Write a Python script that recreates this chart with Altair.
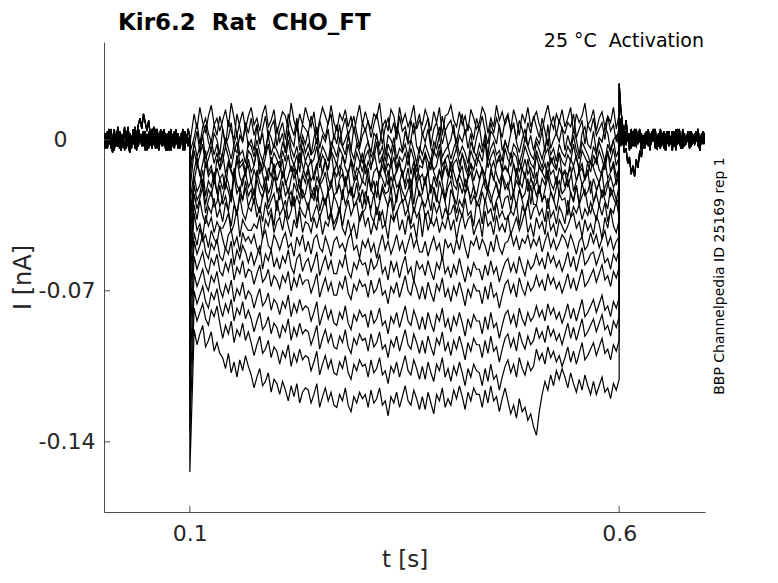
import altair as alt
import pandas as pd
import numpy as np

# ---------------- data (current in pA, 1 pA = 0.001 nA) ----------------
# baseline segments before the pulse (t = 0.000 .. 0.100 s)
pre_a = [0,-3,4,-2,1,-5,3,-1,5,-4,2,0,-3,4,-2,-6,1,3,-1,2,7,10,5,12,8,4,9,2,-3,1,-4,3,-1,5,-2,0,-5,2,4,-3,1,-2,5,-4,0,3,-1,-5,2,1,0]
pre_b = [-2,3,-1,5,-4,0,2,-3,6,-1,-5,2,4,-2,0,3,-4,1,5,-3,-1,2,-2,4,-5,1,3,-1,-4,2,0,5,-3,1,-2,4,-1,-5,3,0,2,-3,4,-1,-4,1,3,-2,0,5,1]
pre_c = [3,-1,-4,2,0,-2,5,-3,1,4,-5,0,2,-1,3,-4,1,-2,6,0,-3,2,-1,4,1,-2,3,0,-4,2,5,-1,-3,1,4,-2,0,3,-5,1,-1,4,-2,2,-4,0,3,-3,1,-1,-2]
pre_d = [2,-4,1,5,-2,-6,3,0,-3,4,-1,2,-5,1,6,-2,0,3,-4,-1,5,2,-3,0,4,-5,1,-2,3,6,-1,-4,2,0,-3,5,-2,1,4,-5,0,2,-1,3,-4,1,5,-3,0,-2,2]
pre_e = [-4,1,3,-2,5,0,-5,2,-1,4,-3,1,6,-4,0,2,-2,5,-1,-5,3,0,2,-3,4,-1,-4,1,5,-2,3,0,-5,2,-1,4,1,-3,0,5,-2,-4,3,1,-1,2,-5,4,0,-3,1]
# baseline segments after the pulse (t = 0.600 .. 0.700 s)
post_a = [8,3,-2,4,-1,2,-4,5,0,-3,3,-1,4,-5,1,2,-2,5,-3,0,3,-4,1,-1,4,-2,2,-5,0,3,-1,4,-3,1,-2,5,0,-4,2,-1,3,-3,4,0,-2,1,5,-4,2,-1,3]
post_b = [3,-2,1,-6,-4,-11,-8,-16,-12,-17,-9,-13,-5,-8,-1,-4,2,-3,3,-1,5,-2,0,3,-4,1,4,-3,2,-1,0,-5,3,1,-2,4,-1,2,-3,0,3,-4,1,2,-1,4,-3,0,2,-2,1]
post_c = [26,14,7,3,9,2,-1,4,-3,2,5,-2,0,3,-4,1,4,-1,-3,2,0,5,-2,1,-4,3,-1,2,4,-3,0,1,-2,5,-1,3,-4,0,2,-2,4,1,-3,0,3,-1,2,-5,1,4,0]
post_d = [5,10,2,-3,4,-1,3,-4,1,5,-2,0,3,-5,2,-1,4,1,-3,0,5,-2,-4,2,1,-1,3,-5,0,4,-2,2,-3,1,5,-1,-4,0,3,-2,1,4,-3,2,-1,0,5,-4,1,3,-2]
post_e = [1,-3,6,0,-2,3,-5,1,4,-1,-3,2,5,-4,0,3,-2,1,-5,4,2,-1,0,-3,5,1,-4,2,-1,3,0,-2,4,-5,1,2,-3,5,0,-1,3,-4,2,1,-2,4,-1,-5,3,0,2]

# capacitive transient at pulse onset (t = 0.100 s), one per sweep
onset_spike = [-2,-6,-12,-18,-24,-30,-36,-42,-48,-55,-60,-68,-75,-85,-95,-108,-120,-135,-154]

# sweep currents during the pulse (t = 0.105 .. 0.600 s)
s01 = [12,5,15,8,3,11,16,7,10,4, 9,14,6,17,10,2,8,13,5,11, 15,7,10,4,12,16,6,9,14,3,
       8,13,11,5,17,9,4,12,7,15, 10,6,13,2,9,15,11,7,16,8, 4,12,9,14,6,11,3,10,16,7,
       13,8,5,12,10,17,6,9,4,14, 11,3,15,8,12,6,10,16,5,9, 7,14,10,4,13,8,15,2,11,12,
       16,9,6,13,7,11,4,14,10,5, 8,15,12,3,10,6,16,9,13,7, 11,5,14,9,2,12,8,15,6,10,
       13,7,4,11,16,9,5,12,8,14, 6,10,15,3,12,8,11,17,7,9, 14,4,10,13,6,11,8,15,5,12]
s02 = [1,8,-2,6,10,3,-1,7,2,11, 5,-3,9,4,0,12,6,-1,8,3, 10,2,7,-2,5,11,1,6,9,-3,
       4,8,0,12,6,2,10,-1,7,5, 3,11,6,-2,9,4,1,8,12,0, 7,-1,5,10,2,6,11,3,-3,8,
       4,9,1,7,12,5,-2,6,10,3, 8,0,11,4,6,-1,9,3,7,12, 2,6,10,-3,5,8,1,11,4,7,
       9,3,-1,6,12,2,7,5,0,10, 5,11,4,-2,8,3,10,6,1,9, 12,4,7,0,9,5,-1,8,3,11,
       6,1,10,4,-3,7,11,2,9,5, 3,8,6,12,1,5,9,-2,7,4, 10,2,5,8,0,11,4,7,-1,6]
s03 = [-3,4,-6,2,7,-1,-5,3,0,-7, 5,-2,1,8,-4,-6,2,-1,6,-3, 0,-5,7,-2,3,-7,4,1,-4,6,
       -1,3,-6,5,0,-3,8,-5,2,-2, 4,-7,1,6,-4,2,-1,5,-6,3, -2,7,-3,0,4,-5,6,-1,-4,2,
       5,-1,-6,3,1,-3,7,-7,2,0, -4,6,2,-5,4,-2,0,8,-3,-6, 3,-1,5,-4,-7,1,6,-2,4,-3,
       0,7,-5,2,-1,5,-4,3,-6,1, 6,-3,0,-7,4,2,-2,7,-5,-1, -4,3,8,-1,-6,0,5,-3,2,-5,
       1,-2,4,-6,7,-4,0,3,-1,6, -5,2,-3,5,0,-7,3,6,-2,-4, 4,-6,1,-1,6,3,-5,0,2,-3]
s04 = [-1,-8,-3,2,-9,-5,0,-7,-2,-10, -6,1,-4,-9,-2,3,-7,-5,-11,-1, -3,-8,0,-6,-10,-4,2,-7,-2,-5,
       -9,-1,-6,4,-4,-8,-3,-11,0,-6, -2,-7,-5,1,-9,-3,-6,-10,-1,-4, -8,0,-3,-7,2,-5,-9,-2,-6,-11,
       -4,-1,-8,-5,3,-7,-3,-10,-2,-6, 1,-9,-4,-6,-2,-8,0,-5,-11,-3, -7,-2,-6,-10,-1,-4,2,-8,-5,-3,
       -9,-4,0,-7,-3,-6,-11,-1,-5,-8, -2,-6,3,-9,-4,-1,-7,-5,-10,0, -5,-8,-2,-4,-11,-6,1,-3,-7,-9,
       -1,-5,-9,-3,0,-7,-4,-10,-2,-6, -8,-3,-6,2,-5,-9,-1,-4,-7,-11, -3,-7,-1,-5,-10,-2,-6,0,-8,-4]
s05 = [-5,-12,-7,-2,-13,-9,-4,-11,-6,-14, -10,-3,-8,-13,-6,-1,-11,-9,-15,-5, -7,-12,-4,-10,-14,-8,-2,-11,-6,-9,
       -13,-5,-10,0,-8,-12,-7,-15,-4,-10, -6,-11,-9,-3,-13,-7,-10,-14,-5,-8, -12,-4,-7,-11,-2,-9,-13,-6,-10,-15,
       -8,-5,-12,-9,-1,-11,-7,-14,-6,-10, -3,-13,-8,-10,-6,-12,-4,-9,-15,-7, -11,-6,-10,-14,-5,-8,-2,-12,-9,-7,
       -13,-8,-4,-11,-7,-10,-15,-5,-9,-12, -6,-10,-1,-13,-8,-5,-11,-9,-14,-4, -9,-12,-6,-8,-15,-10,-3,-7,-11,-13,
       -5,-9,-13,-7,-4,-11,-8,-14,-6,-10, -12,-7,-10,-2,-9,-13,-5,-8,-11,-15, -7,-11,-5,-9,-14,-6,-10,-4,-12,-8]
s06 = [-14,-8,-17,-11,-5,-15,-12,-19,-9,-13, -6,-16,-10,-14,-18,-7,-13,-11,-17,-9, -15,-12,-4,-16,-10,-13,-19,-8,-14,-11,
       -10,-18,-13,-7,-15,-11,-16,-6,-12,-17, -13,-9,-19,-12,-8,-16,-10,-14,-5,-15, -11,-17,-7,-13,-16,-9,-14,-18,-12,-6,
       -16,-10,-14,-5,-12,-18,-8,-15,-11,-13, -8,-15,-11,-17,-13,-6,-16,-10,-19,-12, -13,-7,-16,-10,-14,-12,-5,-17,-9,-15,
       -18,-11,-9,-15,-6,-13,-17,-11,-14,-8, -10,-14,-16,-8,-12,-19,-11,-7,-15,-13, -15,-6,-12,-17,-10,-14,-9,-16,-13,-18,
       -7,-13,-15,-11,-18,-8,-12,-14,-6,-16, -14,-17,-9,-12,-7,-15,-13,-19,-10,-11, -12,-8,-14,-16,-11,-5,-15,-10,-17,-13]
s07 = [-19,-12,-15,-22,-10,-17,-14,-20,-13,-18, -16,-23,-11,-15,-19,-9,-17,-21,-14,-12, -20,-14,-18,-10,-16,-22,-13,-17,-11,-19,
       -15,-9,-21,-17,-12,-18,-14,-23,-16,-10, -13,-19,-16,-11,-20,-15,-9,-18,-22,-14, -17,-12,-14,-21,-16,-10,-19,-13,-15,-20,
       -11,-18,-22,-15,-13,-17,-12,-16,-21,-9, -19,-14,-10,-17,-20,-13,-23,-15,-11,-18, -16,-21,-13,-9,-15,-19,-14,-18,-12,-17,
       -10,-15,-20,-16,-12,-22,-17,-11,-19,-14, -18,-13,-17,-23,-14,-10,-16,-20,-15,-12, -14,-19,-11,-16,-21,-13,-18,-9,-17,-22,
       -20,-12,-15,-18,-10,-16,-14,-21,-13,-17, -15,-22,-17,-12,-19,-14,-11,-18,-16,-10, -13,-17,-20,-14,-9,-18,-15,-12,-21,-16]
s08 = [-17,-24,-21,-14,-26,-19,-22,-15,-25,-18, -23,-16,-20,-27,-13,-21,-24,-18,-15,-22, -19,-26,-14,-20,-23,-17,-25,-21,-13,-24,
       -22,-15,-19,-25,-18,-13,-21,-27,-16,-20, -14,-23,-26,-17,-21,-19,-15,-24,-22,-13, -25,-18,-16,-22,-14,-26,-20,-17,-23,-19,
       -21,-13,-24,-19,-27,-15,-18,-22,-14,-25, -16,-22,-20,-14,-23,-18,-26,-13,-21,-17, -24,-19,-15,-25,-17,-22,-14,-20,-27,-18,
       -13,-21,-23,-16,-20,-25,-18,-15,-22,-26, -19,-14,-22,-24,-15,-18,-21,-27,-16,-20, -23,-17,-26,-13,-19,-22,-15,-24,-18,-21,
       -15,-25,-18,-21,-14,-20,-23,-17,-26,-16, -22,-16,-13,-24,-19,-15,-21,-18,-14,-25, -18,-23,-20,-15,-26,-21,-17,-22,-19,-14]
s09 = [-21,-28,-25,-18,-30,-23,-26,-19,-24,-31, -27,-20,-24,-29,-17,-25,-22,-28,-19,-26, -23,-30,-18,-24,-27,-21,-29,-25,-17,-22,
       -28,-19,-26,-23,-31,-20,-24,-18,-27,-25, -18,-27,-22,-29,-20,-25,-30,-23,-19,-26, -24,-21,-28,-17,-25,-22,-27,-20,-29,-23,
       -30,-18,-23,-26,-19,-28,-21,-25,-24,-17, -22,-29,-19,-24,-27,-23,-18,-30,-20,-26, -25,-17,-27,-21,-23,-29,-19,-24,-28,-22,
       -19,-26,-30,-20,-25,-18,-23,-27,-21,-31, -27,-22,-18,-25,-29,-24,-20,-26,-17,-23, -20,-28,-24,-19,-22,-27,-25,-18,-30,-21,
       -26,-21,-29,-23,-17,-24,-28,-22,-19,-25, -23,-18,-25,-28,-21,-30,-20,-26,-24,-19, -29,-24,-20,-27,-22,-19,-26,-23,-28,-21]
s10 = [-25,-32,-27,-22,-34,-28,-24,-31,-29,-21, -30,-26,-33,-23,-29,-35,-25,-28,-22,-31, -27,-23,-30,-34,-26,-21,-32,-28,-25,-33,
       -22,-29,-35,-27,-24,-31,-26,-30,-23,-28, -32,-25,-28,-21,-33,-27,-30,-24,-34,-26, -29,-34,-23,-30,-26,-22,-31,-28,-25,-32,
       -24,-28,-32,-25,-35,-29,-23,-27,-31,-22, -33,-26,-21,-29,-27,-32,-25,-34,-28,-24, -28,-31,-26,-33,-22,-27,-30,-23,-29,-35,
       -23,-27,-34,-28,-31,-25,-22,-30,-26,-29, -31,-24,-29,-22,-26,-33,-28,-25,-32,-27, -26,-33,-25,-31,-23,-28,-34,-29,-21,-30,
       -30,-22,-28,-26,-32,-24,-27,-33,-25,-28, -27,-35,-24,-29,-21,-30,-26,-23,-31,-34, -29,-25,-31,-23,-28,-32,-22,-27,-30,-26]
s11 = [-30,-37,-28,-35,-39,-31,-34,-27,-36,-32, -38,-29,-33,-40,-30,-35,-26,-34,-37,-31, -33,-27,-36,-31,-38,-29,-35,-32,-40,-28,
       -35,-32,-28,-37,-33,-26,-39,-31,-34,-36, -29,-38,-34,-30,-36,-32,-27,-37,-33,-39, -36,-31,-40,-33,-28,-35,-31,-29,-38,-34,
       -32,-26,-35,-38,-31,-37,-33,-40,-30,-27, -37,-34,-30,-28,-35,-32,-39,-31,-36,-33, -28,-36,-33,-39,-29,-34,-30,-37,-32,-35,
       -34,-30,-38,-32,-36,-27,-35,-33,-40,-29, -31,-39,-27,-34,-32,-38,-29,-36,-33,-37, -36,-33,-35,-29,-40,-31,-34,-28,-37,-32,
       -30,-35,-32,-38,-27,-36,-33,-39,-31,-34, -39,-28,-36,-31,-34,-30,-37,-32,-35,-29, -33,-37,-30,-35,-29,-38,-32,-34,-28,-36]
s12 = [-34,-42,-39,-45,-35,-40,-36,-43,-38,-41, -41,-38,-34,-43,-39,-32,-45,-37,-40,-42, -42,-39,-41,-35,-46,-37,-40,-34,-43,-38,
       -36,-42,-34,-40,-45,-37,-41,-33,-43,-38, -39,-43,-36,-41,-35,-44,-38,-40,-34,-42, -38,-32,-41,-44,-37,-43,-39,-46,-36,-33,
       -40,-36,-44,-38,-42,-33,-41,-39,-46,-35, -38,-33,-42,-37,-44,-35,-41,-39,-46,-34, -45,-34,-42,-37,-40,-36,-43,-38,-41,-35,
       -42,-37,-46,-39,-34,-41,-37,-35,-44,-40, -37,-45,-33,-40,-38,-44,-35,-42,-39,-43, -35,-44,-40,-36,-42,-38,-33,-43,-39,-45,
       -36,-41,-38,-44,-33,-42,-39,-45,-37,-40, -43,-40,-36,-34,-41,-38,-45,-37,-42,-39, -44,-35,-39,-46,-36,-41,-32,-40,-43,-37]
s13 = [-43,-49,-41,-47,-44,-50,-42,-46,-48,-40, -46,-51,-44,-42,-49,-45,-52,-43,-47,-45, -48,-44,-50,-53,-45,-42,-49,-51,-44,-47,
       -51,-46,-43,-50,-48,-54,-45,-49,-44,-52, -47,-53,-46,-44,-50,-52,-45,-49,-54,-47, -45,-50,-48,-52,-46,-43,-51,-49,-55,-47,
       -50,-46,-52,-48,-55,-49,-44,-51,-47,-53, -49,-44,-51,-47,-53,-48,-43,-50,-46,-52, -52,-47,-54,-49,-45,-51,-48,-56,-46,-50,
       -48,-53,-46,-51,-44,-50,-55,-47,-49,-45, -51,-46,-49,-54,-47,-52,-44,-50,-53,-48, -47,-43,-49,-45,-51,-46,-48,-44,-50,-46,
       -49,-45,-52,-47,-43,-50,-46,-51,-48,-44, -46,-50,-44,-48,-53,-47,-45,-51,-49,-43, -48,-44,-50,-46,-42,-49,-45,-51,-47,-45]
s14 = [-47,-53,-49,-44,-52,-55,-48,-51,-46,-54, -56,-50,-53,-47,-58,-51,-55,-49,-52,-57, -52,-58,-54,-49,-60,-53,-56,-51,-59,-55,
       -60,-54,-57,-51,-59,-62,-55,-53,-61,-57, -55,-61,-57,-52,-63,-58,-54,-60,-56,-62, -62,-56,-59,-53,-61,-64,-57,-60,-55,-58,
       -57,-63,-55,-60,-58,-53,-62,-59,-65,-56, -61,-57,-64,-58,-54,-62,-59,-66,-56,-60, -58,-63,-56,-61,-65,-57,-60,-54,-62,-59,
       -64,-58,-62,-55,-61,-66,-59,-63,-57,-60, -60,-65,-58,-63,-56,-62,-59,-66,-61,-57, -55,-61,-57,-62,-54,-59,-63,-56,-60,-58,
       -53,-58,-55,-60,-52,-57,-54,-59,-56,-61, -57,-52,-59,-54,-61,-55,-50,-58,-56,-53, -52,-58,-54,-50,-57,-55,-60,-53,-56,-51]
s15 = [-54,-60,-56,-52,-59,-62,-55,-58,-53,-61, -63,-57,-61,-55,-65,-59,-62,-56,-64,-60, -61,-67,-62,-58,-66,-64,-60,-68,-63,-65,
       -69,-63,-66,-61,-70,-64,-68,-62,-67,-65, -65,-71,-67,-62,-73,-68,-64,-70,-66,-72, -72,-66,-69,-63,-71,-74,-67,-70,-65,-68,
       -67,-73,-65,-71,-69,-64,-72,-70,-76,-68, -71,-66,-73,-68,-63,-70,-72,-65,-69,-74, -68,-74,-66,-71,-75,-67,-70,-64,-73,-69,
       -75,-68,-72,-66,-71,-77,-69,-73,-67,-70, -70,-76,-68,-74,-66,-73,-71,-78,-72,-67, -65,-71,-67,-73,-64,-69,-72,-66,-70,-68,
       -63,-68,-65,-70,-62,-67,-64,-69,-66,-71, -67,-62,-69,-64,-70,-65,-60,-68,-66,-63, -60,-66,-62,-58,-65,-63,-68,-61,-64,-59]
s16 = [-62,-68,-64,-60,-67,-70,-63,-66,-61,-69, -73,-67,-71,-65,-75,-69,-72,-66,-74,-70, -72,-78,-73,-69,-77,-75,-71,-79,-74,-76,
       -81,-75,-78,-72,-82,-76,-80,-74,-79,-77, -78,-84,-80,-75,-86,-81,-77,-83,-79,-85, -86,-80,-83,-77,-85,-88,-81,-84,-79,-82,
       -81,-87,-79,-85,-83,-78,-86,-84,-90,-82, -85,-80,-87,-82,-77,-84,-86,-79,-83,-88, -82,-88,-80,-85,-89,-81,-84,-78,-87,-83,
       -89,-82,-86,-80,-85,-91,-83,-87,-81,-84, -84,-90,-82,-88,-80,-87,-85,-92,-86,-81, -79,-85,-81,-87,-78,-83,-86,-80,-84,-82,
       -77,-82,-79,-84,-76,-81,-78,-83,-80,-85, -81,-76,-83,-78,-84,-79,-74,-82,-80,-77, -74,-80,-76,-72,-79,-77,-82,-75,-78,-73]
s17 = [-70,-76,-72,-68,-75,-78,-71,-74,-69,-77, -82,-76,-80,-74,-84,-78,-81,-75,-83,-79, -83,-89,-84,-80,-88,-86,-82,-90,-85,-87,
       -92,-86,-89,-83,-93,-87,-91,-85,-90,-88, -89,-95,-91,-86,-97,-92,-88,-94,-90,-96, -97,-91,-94,-88,-96,-99,-92,-95,-90,-93,
       -92,-98,-90,-96,-94,-89,-97,-95,-101,-93, -96,-91,-98,-93,-88,-95,-97,-90,-94,-99, -93,-99,-91,-96,-100,-92,-95,-89,-98,-94,
       -100,-93,-97,-91,-96,-102,-94,-98,-92,-95, -95,-101,-93,-99,-91,-98,-96,-103,-97,-92, -90,-96,-92,-98,-89,-94,-97,-91,-95,-93,
       -87,-92,-89,-94,-86,-91,-88,-93,-90,-95, -90,-85,-92,-87,-93,-88,-83,-91,-89,-86, -83,-89,-85,-81,-88,-86,-91,-84,-87,-82]
s18 = [-78,-84,-80,-76,-83,-86,-79,-82,-77,-85, -92,-86,-90,-84,-94,-88,-91,-85,-93,-89, -94,-100,-95,-91,-99,-97,-93,-101,-96,-98,
       -104,-98,-101,-95,-105,-99,-103,-97,-102,-100, -101,-107,-103,-98,-109,-104,-100,-106,-102,-108, -109,-103,-106,-100,-108,-111,-104,-107,-102,-105,
       -104,-110,-102,-108,-106,-101,-109,-107,-113,-105, -108,-103,-110,-105,-100,-107,-109,-102,-106,-111, -105,-111,-103,-108,-112,-104,-107,-101,-110,-106,
       -112,-105,-109,-103,-108,-114,-106,-110,-104,-107, -108,-114,-106,-112,-104,-111,-109,-116,-110,-105, -102,-108,-104,-110,-101,-106,-109,-103,-107,-105,
       -97,-102,-99,-104,-96,-101,-98,-103,-100,-105, -101,-96,-103,-98,-104,-99,-94,-102,-100,-97, -94,-100,-96,-92,-99,-97,-102,-95,-98,-93]
s19 = [-88,-95,-90,-86,-96,-93,-89,-98,-94,-99, -101,-106,-99,-108,-103,-110,-102,-107,-100,-105, -109,-115,-110,-106,-114,-112,-108,-117,-111,-113,
       -118,-112,-116,-121,-114,-119,-113,-122,-117,-115, -116,-122,-118,-113,-124,-119,-115,-121,-117,-123, -124,-118,-121,-115,-123,-126,-119,-122,-117,-120,
       -118,-124,-116,-122,-120,-115,-123,-121,-128,-119, -122,-117,-124,-119,-114,-121,-123,-116,-120,-125, -119,-125,-117,-122,-127,-118,-121,-115,-124,-120,
       -123,-116,-120,-114,-119,-125,-117,-121,-115,-118, -118,-124,-116,-122,-114,-121,-119,-126,-120,-115, -121,-127,-123,-129,-120,-126,-124,-130,-127,-133,
       -137,-126,-118,-112,-116,-109,-114,-107,-111,-106, -110,-115,-108,-113,-117,-111,-116,-109,-114,-118, -112,-118,-114,-110,-117,-115,-120,-113,-116,-111]

sweeps = [s01, s02, s03, s04, s05, s06, s07, s08, s09, s10,
          s11, s12, s13, s14, s15, s16, s17, s18, s19]
pre_sets = [pre_a, pre_b, pre_c, pre_d, pre_e]
post_sets = [post_c, post_a, post_b, post_d, post_e]

x_ticks = [0.1, 0.6]
x_labels = ["0.1", "0.6"]
y_ticks = [0.0, -0.07, -0.14]
# MATLAB pads the "0" label with trailing blanks (char-matrix tick labels)
y_labels = ["0\u00a0\u00a0\u00a0\u00a0\u200b", "-0.07", "-0.14"]

title_text = "Kir6.2\u00a0\u00a0Rat\u00a0\u00a0CHO_FT"
subtitle_text = "25 \u00b0C\u00a0\u00a0Activation"
side_text = "BBP Channelpedia ID 25169 rep 1"

# ---------------- assemble long table ----------------
rows = []
for j, s in enumerate(sweeps):
    k = 0
    pre = pre_sets[j % 5]
    post = post_sets[j % 5]
    for t, v in zip(np.linspace(0.0, 0.1, len(pre)), pre):
        rows.append((j, k, t, v / 1000.0)); k += 1
    rows.append((j, k, 0.1, onset_spike[j] / 1000.0)); k += 1
    for t, v in zip(np.linspace(0.105, 0.6, len(s)), s):
        rows.append((j, k, t, v / 1000.0)); k += 1
    for t, v in zip(np.linspace(0.6, 0.7, len(post)), post):
        rows.append((j, k, t, v / 1000.0)); k += 1
df = pd.DataFrame(rows, columns=["sweep", "k", "t", "i"])

W, H = 601, 470
XDOM = [0.0, 0.7]
YDOM = [-0.1725, 0.0453]
FONT = "DejaVu Sans"
TXT = "#262626"
AX = "#4d4d4d"

def expr_for(vals, labs):
    e = ""
    for v, l in zip(vals, labs):
        e += f"abs(datum.value - ({v})) < 1e-9 ? '{l}' : "
    return e + "''"

xscale = alt.Scale(domain=XDOM, nice=False, zero=False)
yscale = alt.Scale(domain=YDOM, nice=False, zero=False)

traces = alt.Chart(df).mark_line(color="black", strokeWidth=1.2, clip=True).encode(
    x=alt.X("t:Q", scale=xscale,
            axis=alt.Axis(values=x_ticks, labelExpr=expr_for(x_ticks, x_labels),
                          title="t [s]", ticks=False, grid=False,
                          labelPadding=11, titlePadding=4, titleFontSize=23)),
    y=alt.Y("i:Q", scale=yscale,
            axis=alt.Axis(values=y_ticks, labelExpr=expr_for(y_ticks, y_labels),
                          title="I [nA]", ticks=False, grid=False,
                          labelPadding=9, titlePadding=3, titleFontSize=24)),
    detail="sweep:N",
    order="k:Q",
)

xt = alt.Chart(pd.DataFrame({"t": x_ticks})).mark_rule(color=AX, strokeWidth=1).encode(
    x=alt.X("t:Q", scale=xscale),
    y=alt.value(H), y2=alt.value(H - 6))
yt = alt.Chart(pd.DataFrame({"i": y_ticks})).mark_rule(color=AX, strokeWidth=1).encode(
    y=alt.Y("i:Q", scale=yscale),
    x=alt.value(0), x2=alt.value(6))

one = pd.DataFrame({"a": [0]})
title = alt.Chart(one).mark_text(text=title_text, font=FONT, fontSize=23, fontWeight="bold",
                                 color="black", align="left", baseline="alphabetic").encode(
    x=alt.value(14), y=alt.value(-12.5))
sub = alt.Chart(one).mark_text(text=subtitle_text, font=FONT, fontSize=19,
                               color="black", align="right", baseline="alphabetic").encode(
    x=alt.value(600), y=alt.value(4.5))
side = alt.Chart(one).mark_text(text=side_text, font=FONT, fontSize=14, angle=270,
                                color="black", align="center", baseline="middle").encode(
    x=alt.value(615.5), y=alt.value(234))

chart = alt.layer(traces, xt, yt, title, sub, side).properties(
    width=W, height=H,
    autosize=alt.AutoSizeParams(type="none"),
    padding={"left": 96, "top": 34, "right": 60, "bottom": 62},
).configure_view(stroke="transparent").configure_axis(
    labelFont=FONT, labelFontSize=22, labelColor=TXT,
    titleFont=FONT, titleFontWeight="normal", titleColor=TXT,
    domainColor=AX, domainWidth=1,
)

chart.save("out.html", embed_options={"renderer": "svg", "actions": False})
